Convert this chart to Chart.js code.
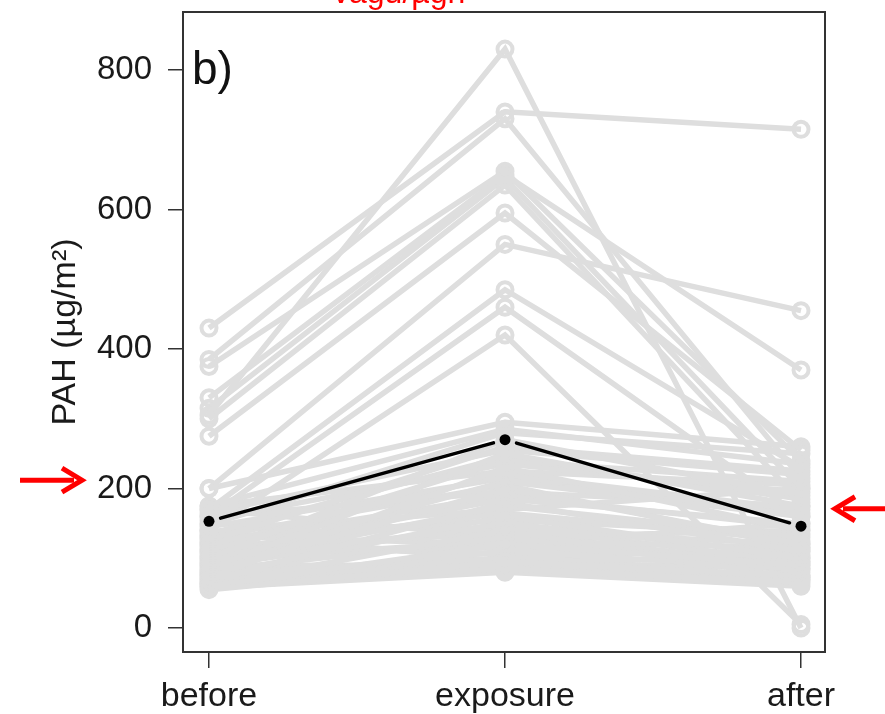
<!DOCTYPE html>
<html>
<head>
<meta charset="utf-8">
<script src="https://cdn.jsdelivr.net/npm/chart.js@4.4.1/dist/chart.umd.min.js"></script>
<style>
  html, body { margin: 0; padding: 0; background: #fff; }
  canvas { display: block; }
</style>
</head>
<body>
<canvas id="chart" width="885" height="714"></canvas>
<script>
const categories = ["before", "exposure", "after"];
const yTicks = [0, 200, 400, 600, 800];

// one entry per subject
const before = [
    305, 430, 385, 375, 330, 315, 300, 275, 200, 170, 160, 140, 200, 175,
    55, 60, 62, 65, 68, 70, 72, 75, 78, 80, 82, 85, 88, 90, 92, 95, 98, 100,
    102, 105, 108, 110, 112, 115, 118, 120, 122, 125, 128, 130, 132, 135, 138,
    140, 145, 148, 150, 155, 160, 165, 170, 175, 58, 64, 76,
];
const exposure = [
    830, 740, 730, 655, 650, 645, 635, 595, 550, 485, 460, 420, 295, 285,
    95, 120, 140, 85, 180, 110, 230, 160, 100, 200, 130, 250, 150, 90, 175, 210, 125, 270,
    145, 185, 115, 240, 165, 135, 220, 105, 190, 260, 155, 205, 120, 245, 170,
    95, 215, 280, 140, 235, 195, 255, 130, 225, 80, 100, 88,
];
const after = [
    0, 715, 215, 240, 370, 200, 180, 255, 455, 230, 160, 5, 260, 235,
    75, 90, 70, 65, 110, 85, 140, 100, 95, 120, 80, 175, 105, 75, 130, 160, 115, 190,
    95, 150, 100, 210, 125, 90, 170, 110, 145, 225, 135, 115, 150, 185, 200,
    85, 165, 250, 120, 195, 175, 220, 140, 205, 60, 68, 72,
];

const meanValues = [153, 270, 146];
const arrowValues = [212, 171]; // left arrow, right arrow

const grey = "rgb(222,222,222)";
const fontFamily = "'Liberation Sans', Arial, sans-serif";

const datasets = before.map(function (b, i) {
    return {
        data: [
            { x: 0, y: b },
            { x: 1, y: exposure[i] },
            { x: 2, y: after[i] },
        ],
        borderColor: grey,
        borderWidth: 5.5,
        pointRadius: 7.5,
        pointBorderWidth: 4,
        pointBorderColor: grey,
        pointBackgroundColor: "rgba(0,0,0,0)",
        order: 2,
    };
});

// mean: points only, line drawn by plugin with gaps (R type "b")
datasets.push({
    data: meanValues.map(function (v, i) { return { x: i, y: v }; }),
    showLine: false,
    pointRadius: 5.5,
    pointBorderWidth: 0,
    pointBackgroundColor: "#000",
    order: 1,
});

const extras = {
    id: "extras",
    afterDatasetsDraw(chart) {
        const ctx = chart.ctx;
        const xs = chart.scales.x, ys = chart.scales.y;
        const a = chart.chartArea;

        // mean line with gaps near the points
        const pts = meanValues.map(function (v, i) {
            return [xs.getPixelForValue(i), ys.getPixelForValue(v)];
        });
        ctx.save();
        ctx.strokeStyle = "#000";
        ctx.lineWidth = 3.5;
        ctx.lineCap = "round";
        for (let i = 0; i < pts.length - 1; i++) {
            const [x1, y1] = pts[i], [x2, y2] = pts[i + 1];
            const len = Math.hypot(x2 - x1, y2 - y1);
            const ux = (x2 - x1) / len, uy = (y2 - y1) / len;
            const gap = 12;
            ctx.beginPath();
            ctx.moveTo(x1 + ux * gap, y1 + uy * gap);
            ctx.lineTo(x2 - ux * gap, y2 - uy * gap);
            ctx.stroke();
        }
        ctx.restore();

        // box
        ctx.save();
        ctx.strokeStyle = "#333";
        ctx.lineWidth = 2;
        ctx.strokeRect(a.left, a.top, a.right - a.left, a.bottom - a.top);
        ctx.restore();
    },
    afterDraw(chart) {
        const ctx = chart.ctx;
        const ys = chart.scales.y;
        const a = chart.chartArea;

        // panel label
        ctx.save();
        ctx.fillStyle = "#111";
        ctx.font = "46px " + fontFamily;
        ctx.textBaseline = "alphabetic";
        ctx.fillText("b)", a.left + 9, 84);

        // clipped red caption at the very top
        ctx.fillStyle = "#ff0000";
        ctx.font = "32px " + fontFamily;
        ctx.fillText("vagu/µgh", 333, 3);

        // red arrows
        ctx.strokeStyle = "#ff0000";
        ctx.fillStyle = "#ff0000";
        ctx.lineWidth = 5;
        ctx.lineJoin = "miter";
        const yl = ys.getPixelForValue(arrowValues[0]);
        ctx.beginPath();
        ctx.moveTo(20, yl);
        ctx.lineTo(74, yl);
        ctx.stroke();
        ctx.beginPath();
        ctx.moveTo(62, yl - 12);
        ctx.lineTo(82, yl);
        ctx.lineTo(62, yl + 12);
        ctx.stroke();

        const yr = ys.getPixelForValue(arrowValues[1]);
        ctx.beginPath();
        ctx.moveTo(885, yr);
        ctx.lineTo(843, yr);
        ctx.stroke();
        ctx.beginPath();
        ctx.moveTo(855, yr - 12);
        ctx.lineTo(835, yr);
        ctx.lineTo(855, yr + 12);
        ctx.stroke();
        ctx.restore();
    },
};

new Chart(document.getElementById("chart"), {
    type: "line",
    data: { datasets: datasets },
    options: {
        responsive: false,
        animation: false,
        layout: { padding: { top: 12, right: 60, bottom: 0, left: 0 } },
        plugins: {
            legend: { display: false },
            tooltip: { enabled: false },
        },
        scales: {
            x: {
                type: "linear",
                min: -0.0878,
                max: 2.081,
                afterBuildTicks: function (scale) {
                    scale.ticks = categories.map(function (c, i) { return { value: i }; });
                },
                afterFit: function (scale) {
                    scale.height = 62;
                    scale.paddingLeft = 0;
                    scale.paddingRight = 0;
                },
                ticks: {
                    callback: function (v) { return categories[v]; },
                    color: "#1a1a1a",
                    font: { family: fontFamily, size: 34 },
                    padding: 8,
                    maxRotation: 0,
                },
                grid: {
                    drawOnChartArea: false,
                    drawTicks: true,
                    tickLength: 16,
                    color: "#333",
                    lineWidth: 1.5,
                },
                border: { display: false },
            },
            y: {
                min: -34.4,
                max: 883.2,
                afterBuildTicks: function (scale) {
                    scale.ticks = yTicks.map(function (v) { return { value: v }; });
                },
                afterFit: function (scale) {
                    scale.width = 183;
                    scale.paddingTop = 0;
                    scale.paddingBottom = 0;
                },
                ticks: {
                    color: "#1a1a1a",
                    font: { family: fontFamily, size: 33 },
                    padding: 16,
                },
                grid: {
                    drawOnChartArea: false,
                    drawTicks: true,
                    tickLength: 15,
                    color: "#333",
                    lineWidth: 1.5,
                },
                border: { display: false },
                title: {
                    display: true,
                    text: "PAH (µg/m²)",
                    color: "#1a1a1a",
                    font: { family: fontFamily, size: 34 },
                    padding: { top: 45, bottom: 0 },
                },
            },
        },
    },
    plugins: [extras],
});
</script>
</body>
</html>
